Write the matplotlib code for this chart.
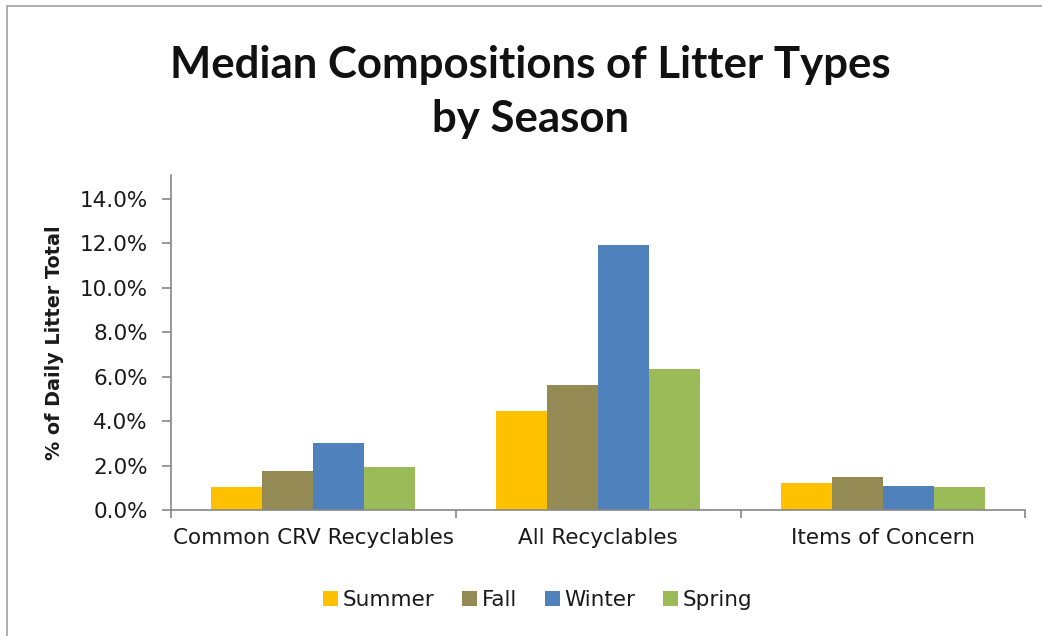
import matplotlib
matplotlib.use("Agg")
import matplotlib.pyplot as plt
from matplotlib.patches import Rectangle
from matplotlib.ticker import FuncFormatter, FixedLocator

categories = ["Common CRV Recyclables", "All Recyclables", "Items of Concern"]
seasons = ["Summer", "Fall", "Winter", "Spring"]
summer = [1.05, 4.47, 1.23]
fall = [1.77, 5.63, 1.51]
winter = [3.0, 11.92, 1.08]
spring = [1.92, 6.35, 1.02]
yticks = [0, 2, 4, 6, 8, 10, 12, 14]

series = [summer, fall, winter, spring]
colors = ["#FFC000", "#948A54", "#4F81BD", "#9BBB59"]
axis_grey = "#868686"
text_col = "#1a1a1a"

plt.rcParams["font.family"] = ["DejaVu Sans"]

fig = plt.figure(figsize=(10.42, 6.36), dpi=100)
fig.patch.set_facecolor("white")

# outer chart frame (only left/top edges fall inside the image)
fig.add_artist(Rectangle((0.007, -0.05), 1.2, 1.0405,
                         transform=fig.transFigure, fill=False,
                         edgecolor="#a0a0a0", linewidth=1.2))

ax = fig.add_axes([0.164, 0.198, 0.820, 0.527])

w = 0.179
x = list(range(len(categories)))
for i, (vals, col, name) in enumerate(zip(series, colors, seasons)):
    pos = [xi + (i - 1.5) * w for xi in x]
    ax.bar(pos, vals, width=w, color=col, label=name, linewidth=0)

ax.set_xlim(-0.5, 2.5)
ax.set_ylim(0, 15.08)

for s in ["top", "right"]:
    ax.spines[s].set_visible(False)
for s in ["left", "bottom"]:
    ax.spines[s].set_color(axis_grey)
    ax.spines[s].set_linewidth(1.2)

ax.yaxis.set_major_locator(FixedLocator(yticks))
ax.yaxis.set_major_formatter(FuncFormatter(lambda v, p: f"{v:.1f}%"))
ax.tick_params(axis="y", direction="out", length=6.5, color=axis_grey,
               width=1.2, labelsize=15.5, pad=10, labelcolor=text_col)

ax.set_xticks(x)
ax.set_xticklabels(categories)
ax.tick_params(axis="x", which="major", length=0, labelsize=15.5, pad=13,
               labelcolor=text_col)
ax.set_xticks([-0.5, 0.5, 1.5, 2.5], minor=True)
ax.tick_params(axis="x", which="minor", direction="out", length=6,
               color=axis_grey, width=1.2)

ax.set_ylabel("% of Daily Litter Total", fontsize=13.8, fontweight="bold",
              labelpad=11, color=text_col)

fig.text(0.509, 0.855, "Median Compositions of Litter Types\nby Season",
         ha="center", va="center", fontsize=31.5, fontweight="bold",
         linespacing=1.44, color="#111111", family=["Lato", "DejaVu Sans"])

leg = fig.legend(loc="center", bbox_to_anchor=(0.516, 0.057), ncol=4,
                 frameon=False, fontsize=15.5, handlelength=0.7,
                 handleheight=0.7, handletextpad=0.2, columnspacing=1.3)
for t in leg.get_texts():
    t.set_color(text_col)

plt.savefig("out.png", dpi=100, facecolor=fig.get_facecolor())
